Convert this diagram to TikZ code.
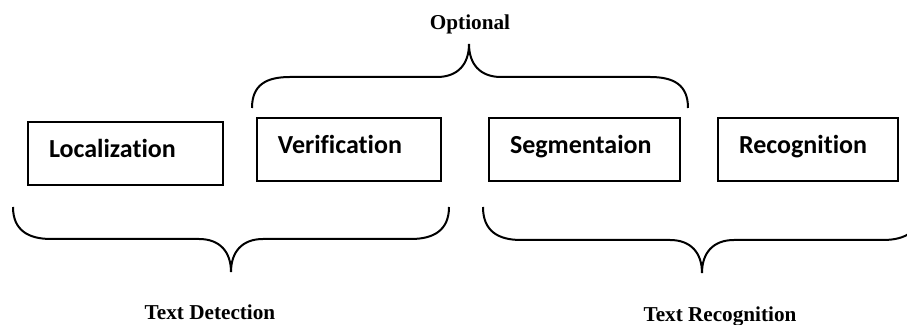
\documentclass[tikz,border=0pt]{standalone}
\usepackage{fontspec}
\setmainfont{Liberation Serif}
\newfontfamily\boxfont[Ligatures=NoCommon]{Carlito}
\usepackage{tikz}

\begin{document}
\begin{tikzpicture}[x=0.5pt, y=-0.5pt,
		box_style/.style={rectangle,draw=black,line width=1pt,minimum height=31.5pt,inner xsep=10.5pt,align=left,text height=8.4pt,text depth=4pt,font=\boxfont\bfseries\fontsize{13}{15}\selectfont},
		brace_style/.style={draw=black,line width=1pt},
		label_style/.style={anchor=base,font=\bfseries\fontsize{10.6}{12}\selectfont}]
		\useasboundingbox (0,0) rectangle (907,325);
		\clip (0,0) rectangle (907,325);
		% stages
		\node[box_style,text width=76.5pt] (loc) at (125.5,153.5) {Localization};
		\node[box_style,text width=71pt] (ver) at (349,149.5) {Verification};
		\node[box_style,text width=74.5pt] (seg) at (584.5,149.5) {Segmentaion};
		\node[box_style,text width=69pt] (rec) at (808,149.5) {Recognition};
		% braces
		\draw[brace_style] (252,108) .. controls (252,85) and (266,77) .. (290,77) -- (437,77) .. controls (458,77) and (469,64) .. (469,44) .. controls (469,64) and (480,77) .. (501,77) -- (650,77) .. controls (674,77) and (688,85) .. (688,108);
		\draw[brace_style] (13,207) .. controls (13,230) and (28,239) .. (51,239) -- (199,239) .. controls (220,239) and (231,252) .. (231,272) .. controls (231,252) and (242,239) .. (263,239) -- (411,239) .. controls (434,239) and (449,230) .. (449,207);
		\draw[brace_style] (483,207) .. controls (483,231) and (498,240) .. (521,240) -- (670,240) .. controls (691,240) and (702,253) .. (702,273) .. controls (702,253) and (713,240) .. (734,240) -- (883,240) .. controls (906,240) and (921,231) .. (921,207);
		% labels
		\node[label_style] (opt) at (470,30) {Optional};
		\node[label_style] (det) at (210,320) {Text Detection};
		\node[label_style] (recog) at (720,322) {Text Recognition};
\end{tikzpicture}
\end{document}
